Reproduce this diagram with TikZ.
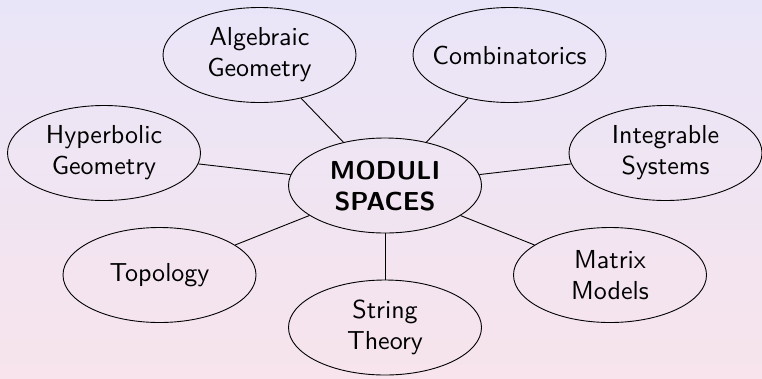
\documentclass[tikz,border=0pt]{standalone}
\usepackage{fontspec}
\setsansfont{lmsans10-regular.otf}[BoldFont=lmsans10-bold.otf]
\usetikzlibrary{shapes.geometric}
\definecolor{bgtop}{RGB}{233,229,248}
\definecolor{bgbot}{RGB}{247,228,236}
\tikzset{
  topic/.style={ellipse, draw=black, line width=0.9pt, minimum width=193pt, minimum height=95pt, inner sep=0pt},
  topictext/.style={align=center, font=\sffamily\fontsize{26}{31}\selectfont, inner sep=0pt},
  link/.style={draw=black, line width=0.9pt}
}
\begin{document}
\begin{tikzpicture}[x=1pt,y=-1pt]
\useasboundingbox (0,0) rectangle (762,378);
\shade[top color=bgtop, bottom color=bgbot] (0,0) rectangle (762,378);
\begin{scope}
\clip (0,0) rectangle (762,378);
\node[topic] (c) at (385,185.5) {};
\node[topic] (alg) at (259.5,55) {};
\node[topic] (comb) at (509.5,55) {};
\node[topic] (hyp) at (104,153) {};
\node[topic] (int) at (665.5,153) {};
\node[topic] (top) at (159.5,275) {};
\node[topic] (str) at (385,327.5) {};
\node[topic] (mat) at (610,275) {};
\node[topictext, font=\sffamily\bfseries\fontsize{26}{31}\selectfont] (ct) at (c) {MODULI\\SPACES};
\node[topictext] (algt) at (alg) {Algebraic\\Geometry};
\node[topictext] (combt) at (comb) {Combinatorics};
\node[topictext] (hypt) at (hyp) {Hyperbolic\\Geometry};
\node[topictext] (intt) at (int) {Integrable\\Systems};
\node[topictext] (topt) at (top) {Topology};
\node[topictext] (strt) at (str) {String\\Theory};
\node[topictext] (matt) at (mat) {Matrix\\Models};
\foreach \n in {alg,comb,hyp,int,top,str,mat}{
  \path[link] (c) -- (\n);
}
\end{scope}
\end{tikzpicture}
\end{document}
